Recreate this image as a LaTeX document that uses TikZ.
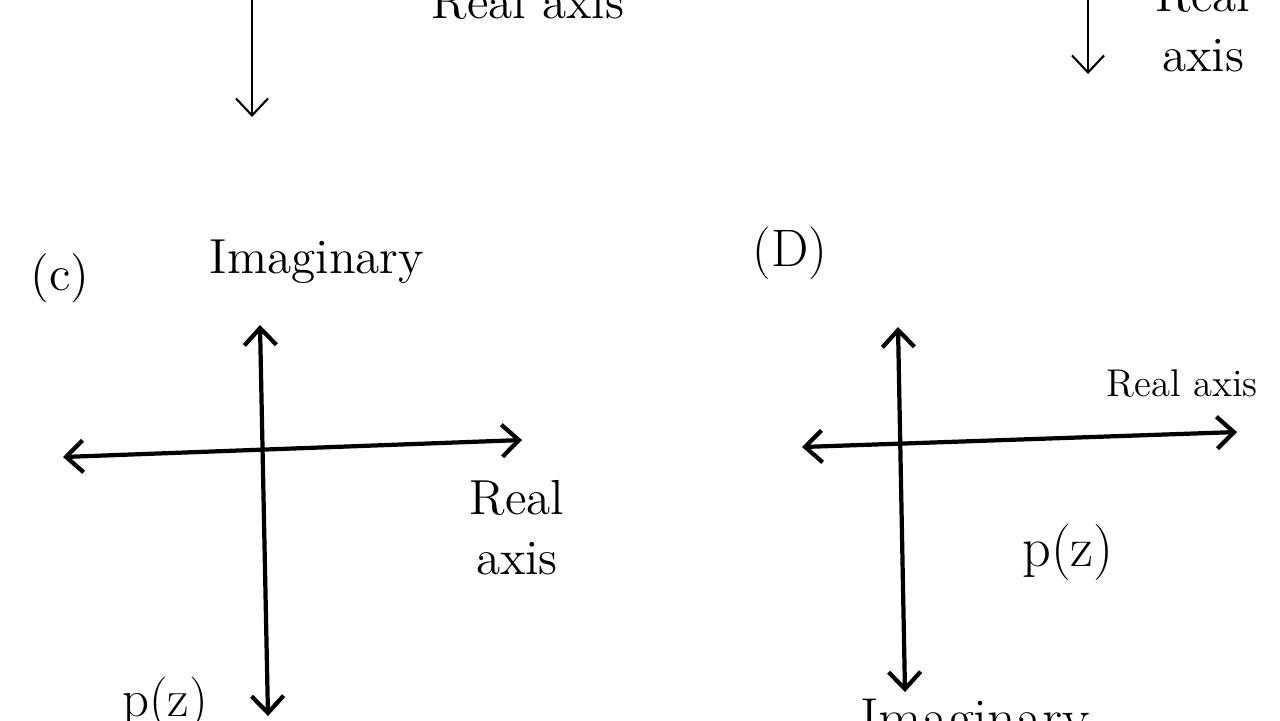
\documentclass[tikz,border=0pt]{standalone}
\usepackage{tikz}
\usetikzlibrary{arrows.meta}

\begin{document}
\begin{tikzpicture}[x=0.01cm, y=-0.01cm,
  every node/.style={align=center, inner sep=0pt, font=\fontsize{14}{17}\selectfont},
  thinarrow/.style={line width=0.6pt, -{Straight Barb[length=0.17cm, width=0.32cm]}},
  axisline/.style={line width=1.2pt, {Straight Barb[length=0.17cm, width=0.32cm]}-{Straight Barb[length=0.17cm, width=0.32cm]}}]
\useasboundingbox (0,0) rectangle (1280,720);
\clip (0,0) rectangle (1280,720);
\fill[white] (0,0) rectangle (1280,720);
% top strip, cut off by the frame
\coordinate (tlTop) at (252,-10);
\coordinate (tlEnd) at (252,117);
\coordinate (trTop) at (1088,-10);
\coordinate (trEnd) at (1088,74);
\node (realTL) at (528,2) {Real axis};
\node (realTR) at (1203,25) {Real\\axis};
\draw[thinarrow] (tlTop) -- (tlEnd);
\draw[thinarrow] (trTop) -- (trEnd);
% panel (c)
\node (labC) at (60,278) {(c)};
\node (imagC) at (317,262) {Imaginary};
\coordinate (cUp) at (260,325);
\coordinate (cDown) at (268,716);
\coordinate (cLeft) at (63,457);
\coordinate (cRight) at (522,440);
\draw[axisline] (cDown) -- (cUp);
\draw[axisline] (cLeft) -- (cRight);
\node (realC) at (517,528) {Real\\axis};
\node[font=\fontsize{15}{17}\selectfont] (pzC) at (165,703) {p(z)};
% panel (D)
\node[font=\fontsize{15}{17}\selectfont] (labD) at (790,253) {(D)};
\coordinate (dUp) at (898,327);
\coordinate (dDown) at (905,692);
\coordinate (dLeft) at (802,447);
\coordinate (dRight) at (1237,432);
\draw[axisline] (dDown) -- (dUp);
\draw[axisline] (dLeft) -- (dRight);
\node[font=\fontsize{11}{13}\selectfont] (realD) at (1182,383) {Real axis};
\node[font=\fontsize{16}{18}\selectfont] (pzD) at (1068,552) {p(z)};
\node[font=\fontsize{16}{18}\selectfont] (imagD) at (975,724) {Imaginary};
\end{tikzpicture}
\end{document}
